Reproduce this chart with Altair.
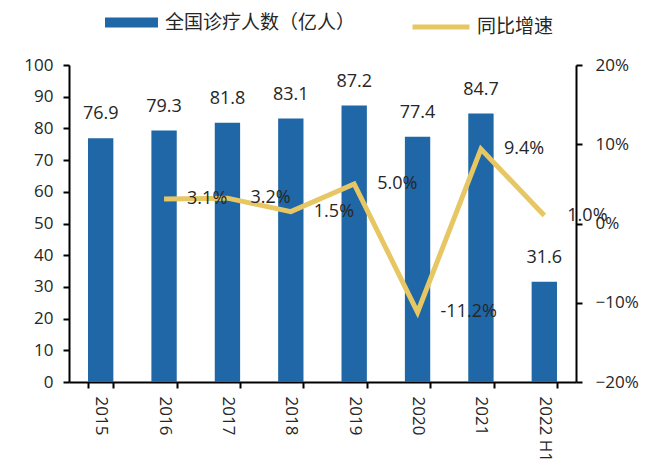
import altair as alt
import pandas as pd

categories = ["2015", "2016", "2017", "2018", "2019", "2020", "2021", "2022 H1"]
visits = [76.9, 79.3, 81.8, 83.1, 87.2, 77.4, 84.7, 31.6]
growth_cats = ["2016", "2017", "2018", "2019", "2020", "2021", "2022 H1"]
growth = [0.031, 0.032, 0.015, 0.050, -0.112, 0.094, 0.010]
growth_labels = ["3.1%", "3.2%", "1.5%", "5.0%", "-11.2%", "9.4%", "1.0%"]
left_ticks = [0, 10, 20, 30, 40, 50, 60, 70, 80, 90, 100]
right_ticks = [-0.2, -0.1, 0, 0.1, 0.2]

BAR_NAME = "全国诊疗人数（亿人）"
LINE_NAME = "同比增速"
BAR_COLOR = "#1F67A6"
LINE_COLOR = "#E6C764"
TXT = "#262626"
FONT = "Open Sans"
CJK = "Noto Sans CJK SC"

bars_df = pd.DataFrame({"cat": categories, "v": visits, "s": [BAR_NAME] * len(categories)})
line_df = pd.DataFrame({"cat": growth_cats, "g": growth, "lab": growth_labels, "s": [LINE_NAME] * len(growth_cats)})

x_axis = alt.Axis(
    title=None, labelAngle=90, labelAlign="left", labelBaseline="middle",
    labelFont=FONT, labelFontSize=17, labelColor=TXT, labelPadding=8,
    tickBand="extent", ticks=True, tickSize=6, tickColor="black", tickWidth=2,
    domainColor="black", domainWidth=2, grid=False, labelOverlap=False,
)
left_axis = alt.Axis(
    title=None, values=left_ticks, labelFont=FONT, labelFontSize=17,
    labelColor=TXT, labelPadding=10, tickSize=6, tickColor="black", tickWidth=2,
    domainColor="black", domainWidth=2, grid=False, labelOverlap=False,
)
right_axis = alt.Axis(
    title=None, orient="right", values=right_ticks, format=".0%",
    labelFont=FONT, labelFontSize=17, labelColor=TXT, labelPadding=13,
    tickSize=6, tickColor="black", tickWidth=2, domainColor="black", domainWidth=2,
    grid=False, labelOverlap=False,
)
x_scale = alt.Scale(domain=categories, paddingInner=0.6, paddingOuter=0.3)
left_scale = alt.Scale(domain=[0, 100], nice=False, zero=True)
right_scale = alt.Scale(domain=[-0.2, 0.2], nice=False, zero=False)

bar = alt.Chart(bars_df).mark_bar(color=BAR_COLOR).encode(
    x=alt.X("cat:N", sort=categories, scale=x_scale, axis=x_axis),
    y=alt.Y("v:Q", scale=left_scale, axis=left_axis),
    fill=alt.Fill(
        "s:N",
        scale=alt.Scale(domain=[BAR_NAME], range=[BAR_COLOR]),
        legend=alt.Legend(
            title=None, orient="none", legendX=36, legendY=-69, padding=0,
            symbolType="M-1,-0.19H1V0.19H-1Z", symbolSize=2809, symbolStrokeWidth=0,
            labelFont=CJK, labelFontSize=19, labelColor=TXT, labelOffset=7, labelLimit=400,
        ),
    ),
)

bar_text = alt.Chart(bars_df).mark_text(
    font=FONT, fontSize=18, color=TXT, baseline="middle", align="center", dy=-24
).encode(
    x=alt.X("cat:N", sort=categories, scale=x_scale, axis=x_axis),
    y=alt.Y("v:Q", scale=left_scale, axis=left_axis),
    text=alt.Text("v:Q", format=".1f"),
)

line = alt.Chart(line_df).mark_line(strokeWidth=5, strokeJoin="miter").encode(
    x=alt.X("cat:N", sort=categories, scale=x_scale, axis=x_axis),
    y=alt.Y("g:Q", scale=right_scale, axis=right_axis),
    stroke=alt.Stroke(
        "s:N",
        scale=alt.Scale(domain=[LINE_NAME], range=[LINE_COLOR]),
        legend=alt.Legend(
            title=None, orient="none", legendX=341, legendY=-69, padding=0,
            symbolType="M-1,0H1", symbolSize=3249, symbolStrokeWidth=5,
            labelFont=CJK, labelFontSize=19, labelColor=TXT, labelOffset=5, labelLimit=400,
        ),
    ),
)

line_text = alt.Chart(line_df).mark_text(
    font=FONT, fontSize=18, color=TXT, baseline="middle", align="left", dx=23
).encode(
    x=alt.X("cat:N", sort=categories, scale=x_scale, axis=x_axis),
    y=alt.Y("g:Q", scale=right_scale, axis=right_axis),
    text="lab:N",
)

chart = alt.layer(
    alt.layer(bar, bar_text),
    alt.layer(line, line_text),
).resolve_scale(y="independent", fill="independent", stroke="independent").properties(
    width=507, height=317,
    background="white",
    padding={"left": 61, "top": 57, "right": 68, "bottom": 80},
    autosize=alt.AutoSizeParams(type="none"),
).configure_view(stroke=None)

chart.save("out.html", embed_options={"renderer": "svg", "actions": False})
